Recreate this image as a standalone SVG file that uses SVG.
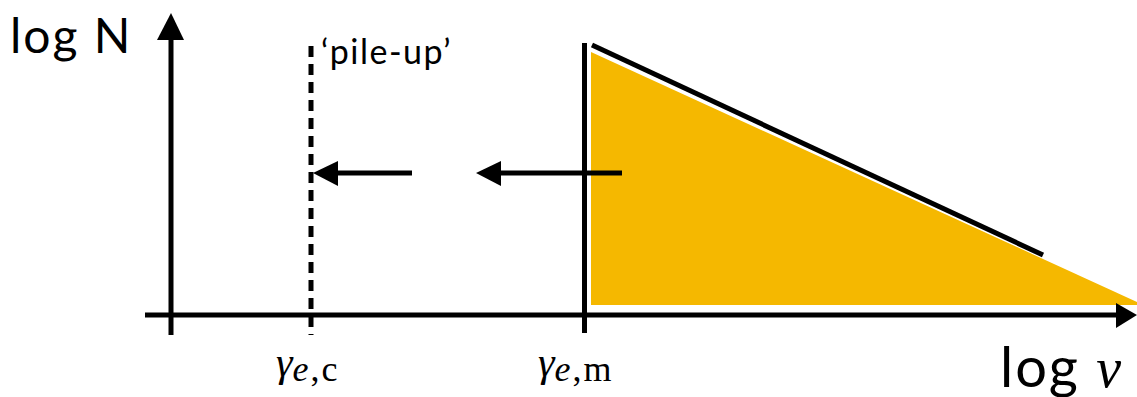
<svg xmlns="http://www.w3.org/2000/svg" width="1137" height="397" viewBox="0 0 1137 397">
<style>
.ax{stroke:#000;stroke-width:5;fill:none}
.lbl{font-family:"Lato","Open Sans",sans-serif;fill:#000}
.math{font-family:"Liberation Serif","DejaVu Serif",serif;font-style:italic;fill:#000}
.rm{font-style:normal}
</style>
<g id="spectrum">
<polygon points="591,52 591,305 1137,305 1137,302" fill="#F5B800"/>
<line x1="592" y1="45" x2="1043" y2="255" class="ax"/>
</g>
<g id="connectors">
<line x1="171" y1="335" x2="171" y2="40" class="ax"/>
<path d="M157,40 L171,13 L184,40 Z" fill="#000"/>
<line x1="145" y1="315" x2="1117" y2="315" class="ax"/>
<path d="M1116,303 L1137,315 L1116,328 Z" fill="#000"/>
<line x1="311" y1="46" x2="311" y2="335" class="ax" stroke-dasharray="11 7"/>
<line x1="584.5" y1="43" x2="584.5" y2="333" class="ax"/>
<line x1="412" y1="173" x2="336" y2="173" class="ax"/>
<path d="M313,173 L338,161 L338,186 Z" fill="#000"/>
<line x1="622" y1="173" x2="500" y2="173" class="ax"/>
<path d="M476,173 L501,161 L501,186 Z" fill="#000"/>
</g>
<g id="labels">
<text x="10" y="53" class="lbl" font-size="48" letter-spacing="2">log N</text>
<text x="321" y="64" class="lbl" font-size="34" letter-spacing="1.5">‘pile-up’</text>
<text x="276" y="376" class="math" font-size="42">γ<tspan font-size="36" dy="5" letter-spacing="2">e<tspan class="rm">,c</tspan></tspan></text>
<text x="538" y="376" class="math" font-size="42">γ<tspan font-size="36" dy="5" letter-spacing="2">e<tspan class="rm">,m</tspan></tspan></text>
<text x="1000" y="387" class="lbl" font-size="56" letter-spacing="2">log <tspan class="math">ν</tspan></text>
</g>
</svg>
